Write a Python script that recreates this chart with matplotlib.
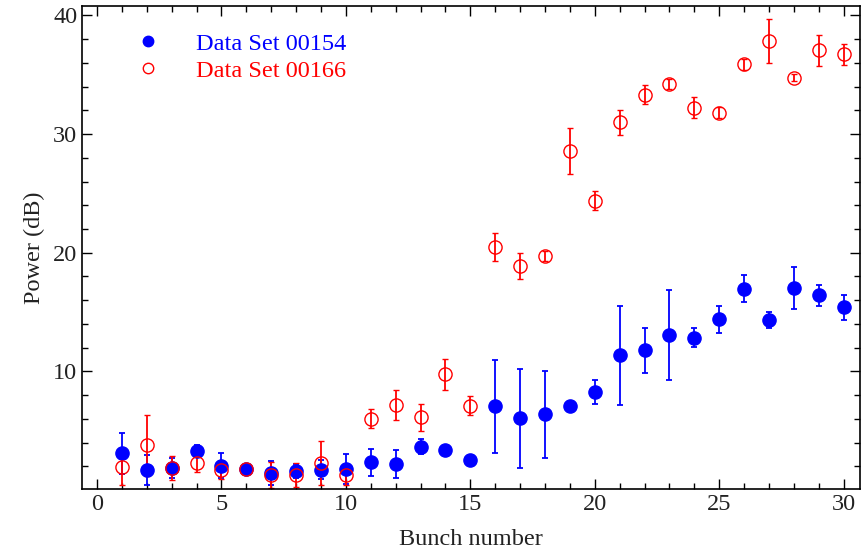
import numpy as np
import matplotlib.pyplot as plt
from matplotlib.ticker import MultipleLocator
from matplotlib.lines import Line2D

# Dados: número do bunch e potência (dB) com barras de erro
bunch = np.arange(1, 31)

p154 = [3.1, 1.7, 1.9, 3.3, 2.05, 1.77, 1.43, 1.6, 1.72, 1.77,
        2.36, 2.22, 3.68, 3.38, 2.56, 7.05, 6.07, 6.38, 7.05, 8.26,
        11.35, 11.77, 13.09, 12.84, 14.38, 16.97, 14.3, 17.02, 16.4, 15.42]
e154 = [1.7, 1.3, 0.85, 0.5, 1.05, 0.2, 1.0, 0.6, 0.8, 1.25,
        1.15, 1.2, 0.67, 0.2, 0.2, 3.9, 4.17, 3.65, 0.2, 0.98,
        4.15, 1.9, 3.8, 0.8, 1.15, 1.12, 0.67, 1.75, 0.9, 1.05]

p166 = [1.94, 3.77, 1.85, 2.31, 1.66, 1.75, 1.3, 1.3, 2.27, 1.24,
        6.01, 7.19, 6.15, 9.75, 7.13, 20.47, 18.85, 19.72, 28.56, 24.4,
        31.0, 33.31, 34.2, 32.22, 31.8, 35.86, 37.83, 34.74, 37.04, 36.7]
e166 = [1.5, 2.6, 1.0, 0.75, 0.7, 0.2, 1.1, 1.0, 1.85, 0.8,
        0.8, 1.27, 1.15, 1.33, 0.78, 1.2, 1.1, 0.4, 1.95, 0.78,
        1.05, 0.82, 0.4, 0.88, 0.45, 0.45, 1.87, 0.3, 1.32, 0.9]

labels = ['Data Set 00154', 'Data Set 00166']

plt.rcParams['font.family'] = ['Liberation Serif', 'DejaVu Serif']

fig = plt.figure(figsize=(8.66, 5.51), dpi=100)
ax = fig.add_axes([0.0947, 0.1125, 0.898, 0.877])

ax.errorbar(bunch, p154, yerr=e154, fmt='o', color='blue', ms=9.5,
            elinewidth=1.3, capsize=2.5, capthick=1.3)
ax.errorbar(bunch, p166, yerr=e166, fmt='o', color='red', mfc='none', mec='red',
            mew=1.0, ms=9.5, elinewidth=1.3, capsize=2.5, capthick=1.3)

ax.set_xlim(-0.6, 30.64)
ax.set_ylim(0.1, 40.8)
ax.xaxis.set_major_locator(MultipleLocator(5))
ax.xaxis.set_minor_locator(MultipleLocator(1))
ax.set_yticks([10, 20, 30, 40])
ax.yaxis.set_minor_locator(MultipleLocator(2))
ax.tick_params(which='both', direction='in', top=True, right=True,
               labelsize=17.5, width=1.0, labelcolor='#222222')
ax.tick_params(which='major', length=7)
ax.tick_params(which='minor', length=4)
for s in ax.spines.values():
    s.set_linewidth(1.2)

ax.set_xlabel('Bunch number', fontsize=17.5, labelpad=10, color='#222222')
ax.set_ylabel('Power (dB)', fontsize=17.5, labelpad=6, color='#222222')

# legenda só com os marcadores
h1 = Line2D([], [], ls='none', marker='o', color='blue', ms=7.5)
h2 = Line2D([], [], ls='none', marker='o', mfc='none', mec='red', mew=1.0, ms=7.5)
ax.legend([h1, h2], labels, loc='upper left', bbox_to_anchor=(0.026, 0.99),
          frameon=False, fontsize=17.5, handletextpad=0.97, labelspacing=0.22,
          labelcolor=['blue', 'red'])

plt.savefig('out.png', dpi=100)
